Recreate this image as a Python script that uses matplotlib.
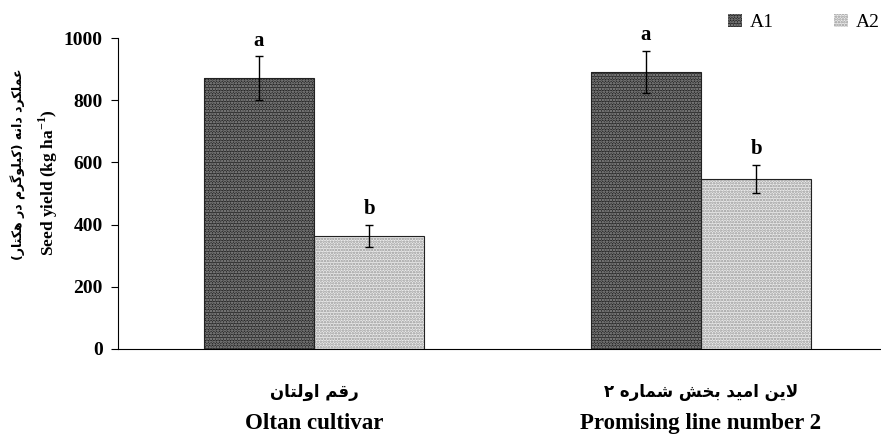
import numpy as np
import matplotlib
matplotlib.use("Agg")
import matplotlib.pyplot as plt

# ─── Data ───────────────────────────────────────────────────────────────────
categories_fa = ["رقم اولتان", "لاین امید بخش شماره ۲"]
categories_en = ["Oltan cultivar", "Promising line number 2"]
series = ["A1", "A2"]
a1_yield = [872, 892]
a2_yield = [363, 547]
a1_err = [70, 67]
a2_err = [36, 45]
a1_letters = ["a", "a"]
a2_letters = ["b", "b"]
ylabel_fa = "عملکرد دانه (کیلوگرم در هکتار)"
ylabel_en = r"Seed yield (kg ha$^{\mathbf{-1}}$)"
yticks = [0, 200, 400, 600, 800, 1000]

# ─── Minimal Persian shaping (matplotlib has no RTL / joining support) ─────
FORMS = {
    "ا": (0xFE8D, 0xFE8E), "د": (0xFEA9, 0xFEAA), "ر": (0xFEAD, 0xFEAE),
    "و": (0xFEED, 0xFEEE),
    "ب": (0xFE8F, 0xFE90, 0xFE91, 0xFE92), "ت": (0xFE95, 0xFE96, 0xFE97, 0xFE98),
    "خ": (0xFEA5, 0xFEA6, 0xFEA7, 0xFEA8), "ش": (0xFEB5, 0xFEB6, 0xFEB7, 0xFEB8),
    "ع": (0xFEC9, 0xFECA, 0xFECB, 0xFECC), "ق": (0xFED5, 0xFED6, 0xFED7, 0xFED8),
    "ک": (0xFB8E, 0xFB8F, 0xFB90, 0xFB91), "گ": (0xFB92, 0xFB93, 0xFB94, 0xFB95),
    "ل": (0xFEDD, 0xFEDE, 0xFEDF, 0xFEE0), "م": (0xFEE1, 0xFEE2, 0xFEE3, 0xFEE4),
    "ن": (0xFEE5, 0xFEE6, 0xFEE7, 0xFEE8), "ه": (0xFEE9, 0xFEEA, 0xFEEB, 0xFEEC),
    "ی": (0xFBFC, 0xFBFD, 0xFBFE, 0xFBFF),
}
MIRROR = {"(": ")", ")": "("}


def shape(text):
    out = []
    i = 0
    n = len(text)
    while i < n:
        c = text[i]
        if c not in FORMS:
            out.append(c)
            i += 1
            continue
        prev = text[i - 1] if i > 0 else ""
        joins_prev = prev in FORMS and len(FORMS[prev]) == 4
        if c == "ل" and i + 1 < n and text[i + 1] == "ا":
            out.append(chr(0xFEFC if joins_prev else 0xFEFB))
            i += 2
            continue
        nxt = text[i + 1] if i + 1 < n else ""
        joins_next = len(FORMS[c]) == 4 and nxt in FORMS
        f = FORMS[c]
        if joins_prev and joins_next:
            out.append(chr(f[3]))
        elif joins_next:
            out.append(chr(f[2]))
        elif joins_prev:
            out.append(chr(f[1]))
        else:
            out.append(chr(f[0]))
        i += 1
    return "".join(MIRROR.get(ch, ch) for ch in reversed(out))


# ─── Style ──────────────────────────────────────────────────────────────────
plt.rcParams["font.family"] = ["Liberation Serif", "DejaVu Sans"]
plt.rcParams["mathtext.fontset"] = "custom"
plt.rcParams["mathtext.rm"] = "Liberation Serif"
plt.rcParams["mathtext.bf"] = "Liberation Serif:bold"
plt.rcParams["hatch.linewidth"] = 1.2
FA_FONT = ["DejaVu Sans"]

fig = plt.figure(figsize=(8.81, 4.34), dpi=100)
ax = fig.add_axes([0.134, 0.196, 0.866, 0.716])

x = np.arange(len(categories_en))
width = 0.285

# dark bars with light dots, light bars with grey dots
b1 = ax.bar(x - width / 2, a1_yield, width, color="#262626", edgecolor="#9a9a9a",
            hatch="......", linewidth=0, label=series[0], zorder=2)
b2 = ax.bar(x + width / 2, a2_yield, width, color="#ececec", edgecolor="#969696",
            hatch="......", linewidth=0, label=series[1], zorder=2)
ax.bar(x - width / 2, a1_yield, width, fill=False, edgecolor="#222222", linewidth=0.8, zorder=3)
ax.bar(x + width / 2, a2_yield, width, fill=False, edgecolor="#222222", linewidth=0.8, zorder=3)

ax.errorbar(x - width / 2, a1_yield, yerr=a1_err, fmt="none", ecolor="black",
            elinewidth=1, capsize=3, capthick=1, zorder=4)
ax.errorbar(x + width / 2, a2_yield, yerr=a2_err, fmt="none", ecolor="black",
            elinewidth=1, capsize=3, capthick=1, zorder=4)

for xi, v, e, t in zip(x - width / 2, a1_yield, a1_err, a1_letters):
    ax.annotate(t, (xi, v + e), xytext=(0, 4), textcoords="offset points",
                ha="center", va="bottom", fontsize=15, fontweight="bold")
for xi, v, e, t in zip(x + width / 2, a2_yield, a2_err, a2_letters):
    ax.annotate(t, (xi, v + e), xytext=(0, 4), textcoords="offset points",
                ha="center", va="bottom", fontsize=15, fontweight="bold")

ax.set_xlim(-0.506, 1.465)
ax.set_ylim(0, 1000)
ax.set_yticks(yticks)
ax.set_yticklabels([str(t) for t in yticks], fontsize=14, fontweight="bold")
ax.set_xticks([])
ax.tick_params(axis="y", direction="out", length=5, width=0.8, pad=6)
ax.spines["top"].set_visible(False)
ax.spines["right"].set_visible(False)
ax.spines["left"].set_linewidth(0.8)
ax.spines["bottom"].set_linewidth(0.8)

# category labels: Persian line above English line
for xi, fa, en in zip(x, categories_fa, categories_en):
    ax.text(xi, -0.14, shape(fa), transform=ax.get_xaxis_transform(),
            ha="center", va="center", fontsize=12, fontweight="bold", family=FA_FONT)
    ax.text(xi, -0.24, en, transform=ax.get_xaxis_transform(),
            ha="center", va="center", fontsize=16.5, fontweight="bold")

# y label, two rotated lines
fig.text(0.021, 0.622, shape(ylabel_fa), rotation=90, ha="center", va="center",
         fontsize=9, fontweight="bold", family=FA_FONT)
fig.text(0.055, 0.58, ylabel_en, rotation=90, ha="center", va="center",
         fontsize=12.5, fontweight="bold")

fig.legend(handles=[b1, b2], labels=series, loc="center left",
           bbox_to_anchor=(0.818, 0.948), ncol=2, frameon=False, fontsize=14,
           handlelength=0.7, handleheight=0.7, handletextpad=0.4, columnspacing=3.1,
           borderaxespad=0)

fig.savefig("out.png", dpi=100)
